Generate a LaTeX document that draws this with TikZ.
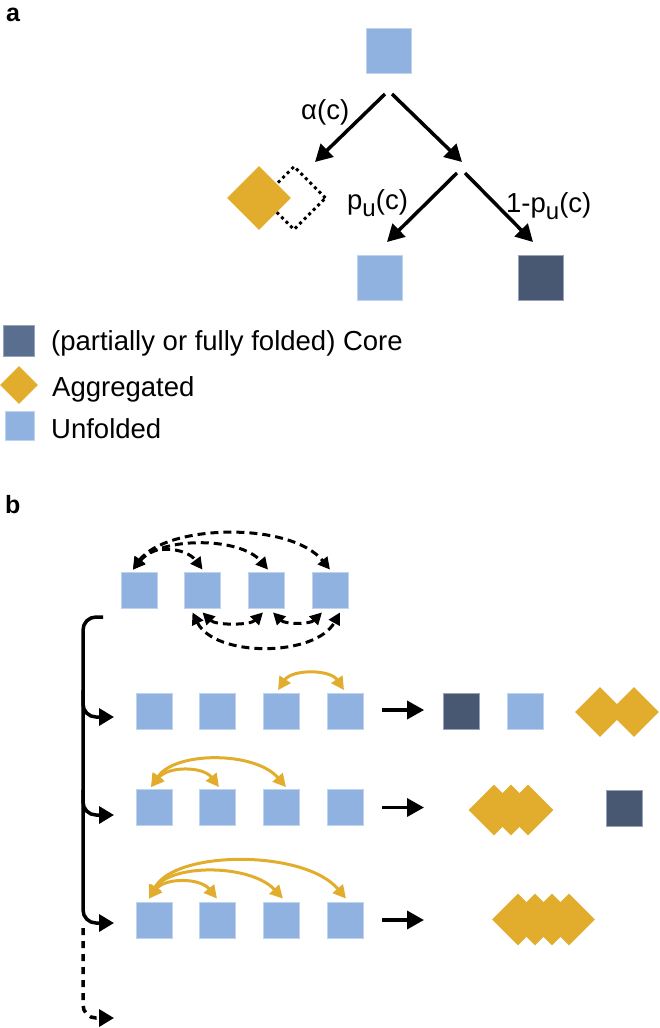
\documentclass[tikz,border=0pt]{standalone}
\usepackage{fontspec}
\setmainfont{Liberation Sans}
\usetikzlibrary{arrows.meta,shapes.geometric,calc}
\definecolor{lblue}{RGB}{143,178,224}
\definecolor{lbord}{RGB}{192,211,238}
\definecolor{dcore}{RGB}{72,88,114}
\definecolor{dbord}{RGB}{150,163,185}
\definecolor{lcore}{RGB}{90,110,143}
\definecolor{agg}{RGB}{226,173,45}
\begin{document}
\begin{tikzpicture}[x=1pt,y=-1pt,
  unf/.style={rectangle, fill=lblue, draw=lbord, line width=0.8pt, inner sep=0pt, minimum size=#1},
  core/.style={rectangle, fill=dcore, draw=dbord, line width=0.8pt, inner sep=0pt, minimum size=#1},
  aggd/.style={diamond, fill=agg, inner sep=0pt, minimum width=#1, minimum height=#1},
  lab/.style={font=\fontsize{27.5}{30}\selectfont, inner sep=0pt, anchor=base west},
  panel/.style={font=\fontsize{25}{28}\selectfont\bfseries, inner sep=0pt, anchor=base west},
  blk/.style={line width=3.5pt, -{Triangle[length=17pt,width=18pt]}},
  brk/.style={line width=3.5pt, rounded corners=13pt},
  darr/.style={line width=3pt, dash pattern=on 8pt off 5pt, {Triangle[length=12pt,width=12pt]}-{Triangle[length=12pt,width=12pt]}},
  oarr/.style={line width=3pt, draw=agg, {Triangle[length=13pt,width=13pt]}-{Triangle[length=13pt,width=13pt]}}
]
\useasboundingbox (0,0) rectangle (660,1028);

% ---------- panel a ----------
\node[panel] (pa) at (6,21) {a};
\node[unf=45pt] (top) at (388.5,50.5) {};
\node[unf=45pt] (bl) at (379.5,277.5) {};
\node[core=45pt] (br) at (540.5,277.5) {};
\node[diamond, draw=black, line width=3pt, dash pattern=on 3pt off 3.4pt, inner sep=0pt, minimum width=64pt, minimum height=64pt] (dd) at (294,198) {};
\node[aggd=64pt] (ad) at (259,198) {};

\coordinate (a1s) at (385,94);
\coordinate (a1e) at (315,162);
\coordinate (a2s) at (392,94);
\coordinate (a2e) at (462,162);
\coordinate (a3s) at (457,173);
\coordinate (a3e) at (387,242);
\coordinate (a4s) at (465,173);
\coordinate (a4e) at (533,242);
\draw[blk] (a1s) -- (a1e);
\draw[blk] (a2s) -- (a2e);
\draw[blk] (a3s) -- (a3e);
\draw[blk] (a4s) -- (a4e);

\node[lab] (lal) at (301,119) {α(c)};
\node[lab] (lpu) at (347,209) {p\raisebox{-7pt}{\fontsize{24}{24}\selectfont u}(c)};
\node[lab] (lpu1) at (506,212) {1-p\raisebox{-7pt}{\fontsize{24}{24}\selectfont u}(c)};

% ---------- legend ----------
\node[rectangle, fill=lcore, draw=dbord, line width=0.8pt, inner sep=0pt, minimum size=31pt] (lg1) at (18.5,341) {};
\node[aggd=38pt] (lg2) at (19,385) {};
\node[unf=29pt] (lg3) at (19.5,426) {};
\node[lab] (lt1) at (51,350) {(partially or fully folded) Core};
\node[lab] (lt2) at (52,396) {Aggregated};
\node[lab] (lt3) at (51,438) {Unfolded};

% ---------- panel b ----------
\node[panel] (pb) at (5,513) {b};
\node[unf=36pt] (t1) at (139,590) {};
\node[unf=36pt] (t2) at (202.5,590) {};
\node[unf=36pt] (t3) at (266,590) {};
\node[unf=36pt] (t4) at (330,590) {};

\draw[darr] ([xshift=-6pt,yshift=2pt]t1.north) .. controls +(32,-45) and +(-40,-49) .. ([yshift=2pt]t4.north);
\draw[darr] ([xshift=-6pt,yshift=2pt]t1.north) .. controls +(27,-33) and +(-28,-33) .. ([xshift=2pt,yshift=2pt]t3.north);
\draw[darr] ([xshift=-6pt,yshift=2pt]t1.north) .. controls +(17,-25) and +(-17,-23) .. ([yshift=2pt]t2.north);

\draw[darr] ([yshift=-4pt]t2.south) .. controls +(13,13) and +(-13,13) .. ([xshift=-3pt,yshift=-4pt]t3.south);
\draw[darr] ([xshift=7pt,yshift=-4pt]t3.south) .. controls +(12,12) and +(-12,12) .. ([xshift=-8pt,yshift=-4pt]t4.south);
\draw[darr] ([xshift=-10pt,yshift=-4pt]t2.south) .. controls +(22,45) and +(-25,45) .. ([xshift=10pt,yshift=-4pt]t4.south);

% rows
\foreach \r/\y in {1/711.5, 2/807.5, 3/920} {
  \node[unf=36pt] (r\r c1) at (154,\y) {};
  \node[unf=36pt] (r\r c2) at (217.5,\y) {};
  \node[unf=36pt] (r\r c3) at (281,\y) {};
  \node[unf=36pt] (r\r c4) at (345,\y) {};
}

% row 1 result
\node[core=36pt] (d1) at (461.5,711.5) {};
\node[unf=36pt] (u1) at (525.5,711.5) {};
\node[aggd=50pt] (g11) at (600,712) {};
\node[aggd=50pt] (g12) at (634,712) {};
% row 2 result
\node[aggd=51pt] (g21) at (494,810) {};
\node[aggd=51pt] (g22) at (511,810) {};
\node[aggd=51pt] (g23) at (528,810) {};
\node[core=36pt] (d2) at (624,808.5) {};
% row 3 result
\node[aggd=52pt] (g31) at (518,919.5) {};
\node[aggd=52pt] (g32) at (535,919.5) {};
\node[aggd=52pt] (g33) at (552,919.5) {};
\node[aggd=52pt] (g34) at (569,919.5) {};

% orange arcs
\draw[oarr] ([xshift=-3pt,yshift=3pt]r1c3.north) .. controls +(14,-21) and +(-14,-21) .. ([xshift=-1pt,yshift=3pt]r1c4.north);

\draw[oarr] ([xshift=-3pt,yshift=2pt]r2c1.north) .. controls +(17,-21) and +(-16,-21) .. ([xshift=1.5pt,yshift=2pt]r2c2.north);
\draw[oarr] ([xshift=-3pt,yshift=2pt]r2c1.north) .. controls +(24,-36) and +(-31,-36) .. ([xshift=5pt,yshift=2pt]r2c3.north);

\draw[oarr] ([xshift=-5pt,yshift=3pt]r3c1.north) .. controls +(16,-21) and +(-17,-21) .. ([xshift=-0.5pt,yshift=3pt]r3c2.north);
\draw[oarr] ([xshift=-5pt,yshift=3pt]r3c1.north) .. controls +(21,-35) and +(-33,-35) .. ([xshift=2pt,yshift=3pt]r3c3.north);
\draw[oarr] ([xshift=-5pt,yshift=3pt]r3c1.north) .. controls +(26,-49) and +(-41,-49) .. ([xshift=1pt,yshift=3pt]r3c4.north);

% right arrows
\coordinate (e2) at (424,807.5);
\coordinate (e3) at (424,920);
\draw[blk] ([xshift=19pt,yshift=1.5pt]r1c4.east) -- ([xshift=-19pt,yshift=1.5pt]d1.west);
\draw[blk] ([xshift=19pt]r2c4.east) -- (e2);
\draw[blk] ([xshift=19pt]r3c4.east) -- (e3);

% bracket
\coordinate (hk) at (103,617);
\coordinate (hb1) at (114,717);
\coordinate (hb2) at (114,815);
\coordinate (hb3) at (114,923);
\coordinate (hb4) at (114,1018);
\draw[brk, -{Triangle[length=15pt,width=17pt]}] (hk) -| (83,890) |- (hb3);
\draw[brk, -{Triangle[length=15pt,width=17pt]}] (83,690) |- (hb1);
\draw[brk, -{Triangle[length=15pt,width=17pt]}] (83,790) |- (hb2);
\draw[brk, dash pattern=on 7pt off 6pt, -{Triangle[length=15pt,width=17pt]}] (83,928) |- (hb4);
\end{tikzpicture}
\end{document}
